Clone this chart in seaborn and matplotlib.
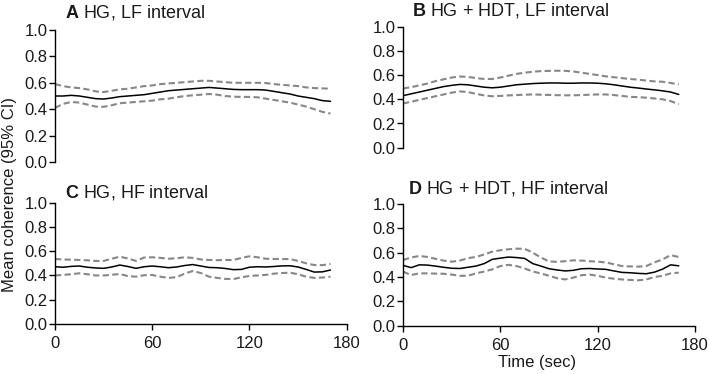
import numpy as np
import pandas as pd
import seaborn as sns
import matplotlib.pyplot as plt

sns.set_style("ticks")
plt.rcParams['font.family'] = ['Liberation Sans', 'DejaVu Sans']
plt.rcParams['mathtext.fontset'] = 'custom'
plt.rcParams['mathtext.rm'] = 'Liberation Sans'
plt.rcParams['mathtext.bf'] = 'Liberation Sans:bold'

time_sec = list(range(0, 175, 5))

a_mean = [0.50, 0.50, 0.505, 0.50, 0.49, 0.48, 0.477, 0.485, 0.495, 0.50, 0.505, 0.51, 0.52, 0.53, 0.54, 0.545, 0.55, 0.555,
          0.56, 0.565, 0.56, 0.555, 0.55, 0.548, 0.548, 0.548, 0.545, 0.535, 0.525, 0.515, 0.50, 0.49, 0.48, 0.465, 0.46]
a_upper = [0.59, 0.575, 0.565, 0.56, 0.55, 0.535, 0.53, 0.54, 0.55, 0.555, 0.565, 0.575, 0.58, 0.59, 0.595, 0.60, 0.605, 0.61,
           0.615, 0.615, 0.61, 0.605, 0.60, 0.60, 0.60, 0.60, 0.598, 0.59, 0.585, 0.58, 0.575, 0.565, 0.56, 0.558, 0.555]
a_lower = [0.41, 0.44, 0.455, 0.45, 0.435, 0.42, 0.418, 0.43, 0.445, 0.45, 0.455, 0.46, 0.465, 0.475, 0.48, 0.49, 0.50, 0.505,
           0.51, 0.515, 0.51, 0.50, 0.495, 0.493, 0.493, 0.49, 0.48, 0.47, 0.46, 0.45, 0.435, 0.42, 0.40, 0.38, 0.367]

b_mean = [0.43, 0.445, 0.46, 0.475, 0.49, 0.505, 0.515, 0.523, 0.52, 0.51, 0.50, 0.495, 0.50, 0.51, 0.52, 0.525, 0.53, 0.533,
          0.535, 0.535, 0.533, 0.533, 0.535, 0.535, 0.533, 0.528, 0.52, 0.51, 0.50, 0.493, 0.485, 0.478, 0.47, 0.46, 0.44]
b_upper = [0.49, 0.50, 0.515, 0.53, 0.55, 0.565, 0.58, 0.588, 0.585, 0.575, 0.568, 0.568, 0.58, 0.595, 0.61, 0.62, 0.628, 0.633,
           0.635, 0.636, 0.635, 0.63, 0.62, 0.61, 0.60, 0.59, 0.582, 0.575, 0.568, 0.562, 0.555, 0.548, 0.545, 0.535, 0.523]
b_lower = [0.365, 0.38, 0.395, 0.41, 0.425, 0.44, 0.455, 0.465, 0.46, 0.445, 0.432, 0.425, 0.428, 0.432, 0.435, 0.438, 0.44, 0.438,
           0.436, 0.434, 0.433, 0.433, 0.435, 0.438, 0.44, 0.44, 0.435, 0.428, 0.42, 0.418, 0.413, 0.407, 0.40, 0.385, 0.36]

c_mean = [0.472, 0.468, 0.475, 0.478, 0.468, 0.462, 0.459, 0.47, 0.486, 0.474, 0.459, 0.472, 0.478, 0.472, 0.464, 0.47, 0.482, 0.49,
          0.478, 0.466, 0.464, 0.458, 0.448, 0.45, 0.468, 0.472, 0.47, 0.474, 0.479, 0.48, 0.47, 0.45, 0.428, 0.43, 0.445]
c_upper = [0.536, 0.532, 0.53, 0.528, 0.525, 0.52, 0.52, 0.538, 0.555, 0.54, 0.52, 0.548, 0.55, 0.545, 0.538, 0.542, 0.55, 0.545,
           0.532, 0.528, 0.526, 0.528, 0.527, 0.545, 0.558, 0.55, 0.538, 0.536, 0.536, 0.535, 0.52, 0.50, 0.486, 0.485, 0.495]
c_lower = [0.40, 0.405, 0.41, 0.418, 0.41, 0.40, 0.40, 0.406, 0.412, 0.395, 0.39, 0.402, 0.404, 0.39, 0.38, 0.386, 0.415, 0.437,
           0.42, 0.39, 0.38, 0.372, 0.37, 0.385, 0.396, 0.40, 0.405, 0.415, 0.42, 0.423, 0.41, 0.39, 0.38, 0.383, 0.39]

d_mean = [0.496, 0.477, 0.50, 0.498, 0.49, 0.48, 0.472, 0.47, 0.48, 0.49, 0.51, 0.545, 0.555, 0.564, 0.56, 0.553, 0.51, 0.49,
          0.468, 0.458, 0.45, 0.455, 0.468, 0.47, 0.466, 0.463, 0.45, 0.438, 0.435, 0.43, 0.427, 0.44, 0.465, 0.50, 0.492]
d_upper = [0.54, 0.56, 0.573, 0.565, 0.55, 0.535, 0.526, 0.535, 0.555, 0.565, 0.585, 0.608, 0.62, 0.628, 0.633, 0.632, 0.60, 0.56,
           0.528, 0.525, 0.53, 0.537, 0.535, 0.53, 0.526, 0.52, 0.505, 0.49, 0.487, 0.485, 0.49, 0.52, 0.545, 0.58, 0.564]
d_lower = [0.444, 0.416, 0.43, 0.43, 0.428, 0.427, 0.42, 0.41, 0.41, 0.43, 0.445, 0.463, 0.49, 0.50, 0.49, 0.47, 0.445, 0.43,
           0.41, 0.39, 0.38, 0.395, 0.415, 0.42, 0.41, 0.395, 0.386, 0.38, 0.376, 0.373, 0.38, 0.40, 0.41, 0.43, 0.436]

panel_letters = ["A", "B", "C", "D"]
panel_titles = ["HG, LF interval", "HG + HDT, LF interval", "HG, HF interval", "HG + HDT, HF interval"]
panel_data = [(a_mean, a_upper, a_lower), (b_mean, b_upper, b_lower),
              (c_mean, c_upper, c_lower), (d_mean, d_upper, d_lower)]
y_ticks = [0.0, 0.2, 0.4, 0.6, 0.8, 1.0]
x_ticks = [0, 60, 120, 180]

W, H = 709, 374
fig = plt.figure(figsize=(W / 100, H / 100), dpi=100)

# axes boxes in pixels: left, right(180), y of 1.0, y of 0.0
boxes = [(55, 346.7, 30, 162), (403, 695, 26.7, 147.7),
         (55, 346.7, 202.7, 324), (403, 695, 204, 325.7)]
title_pos = [(65, 12), (412, 11), (65, 192), (408, 188)]

for i, (l, r, t, b) in enumerate(boxes):
    ax = fig.add_axes([l / W, 1 - b / H, (r - l) / W, (b - t) / H])
    mean, upper, lower = panel_data[i]
    sns.lineplot(x=time_sec, y=upper, ax=ax, color="#878787", lw=1.5, linestyle=(0, (3, 1.6)))
    sns.lineplot(x=time_sec, y=lower, ax=ax, color="#878787", lw=1.5, linestyle=(0, (3, 1.6)))
    sns.lineplot(x=time_sec, y=mean, ax=ax, color="black", lw=1.1)
    ax.set_xlim(0, 180)
    ax.set_ylim(0, 1)
    ax.set_yticks(y_ticks)
    ax.set_yticklabels([f"{v:.1f}" for v in y_ticks])
    ax.set_xlabel("")
    ax.set_ylabel("")
    sns.despine(ax=ax)
    ax.tick_params(axis="both", labelsize=12, length=4, width=1, color="black", pad=1.5, labelcolor="#1a1a1a")
    for s in ax.spines.values():
        s.set_linewidth(1)
        s.set_color("black")
    if i < 2:
        ax.spines["bottom"].set_visible(False)
        ax.set_xticks([])
    else:
        ax.set_xticks(x_ticks)
        ax.tick_params(axis="x", pad=5)
    ax.patch.set_alpha(0)
    tx, ty = title_pos[i]
    fig.text(tx / W, 1 - ty / H, r"$\mathbf{" + panel_letters[i] + "}$ " + panel_titles[i],
             fontsize=13, ha="left", va="center", color="#1a1a1a")

fig.text(10 / W, 1 - 195 / H, "Mean coherence (95% CI)", rotation=90, ha="center", va="center",
         fontsize=12, color="#1a1a1a")
fig.text(537 / W, 1 - 362 / H, "Time (sec)", ha="center", va="center", fontsize=12, color="#1a1a1a")

fig.savefig("out.png", dpi=100)
